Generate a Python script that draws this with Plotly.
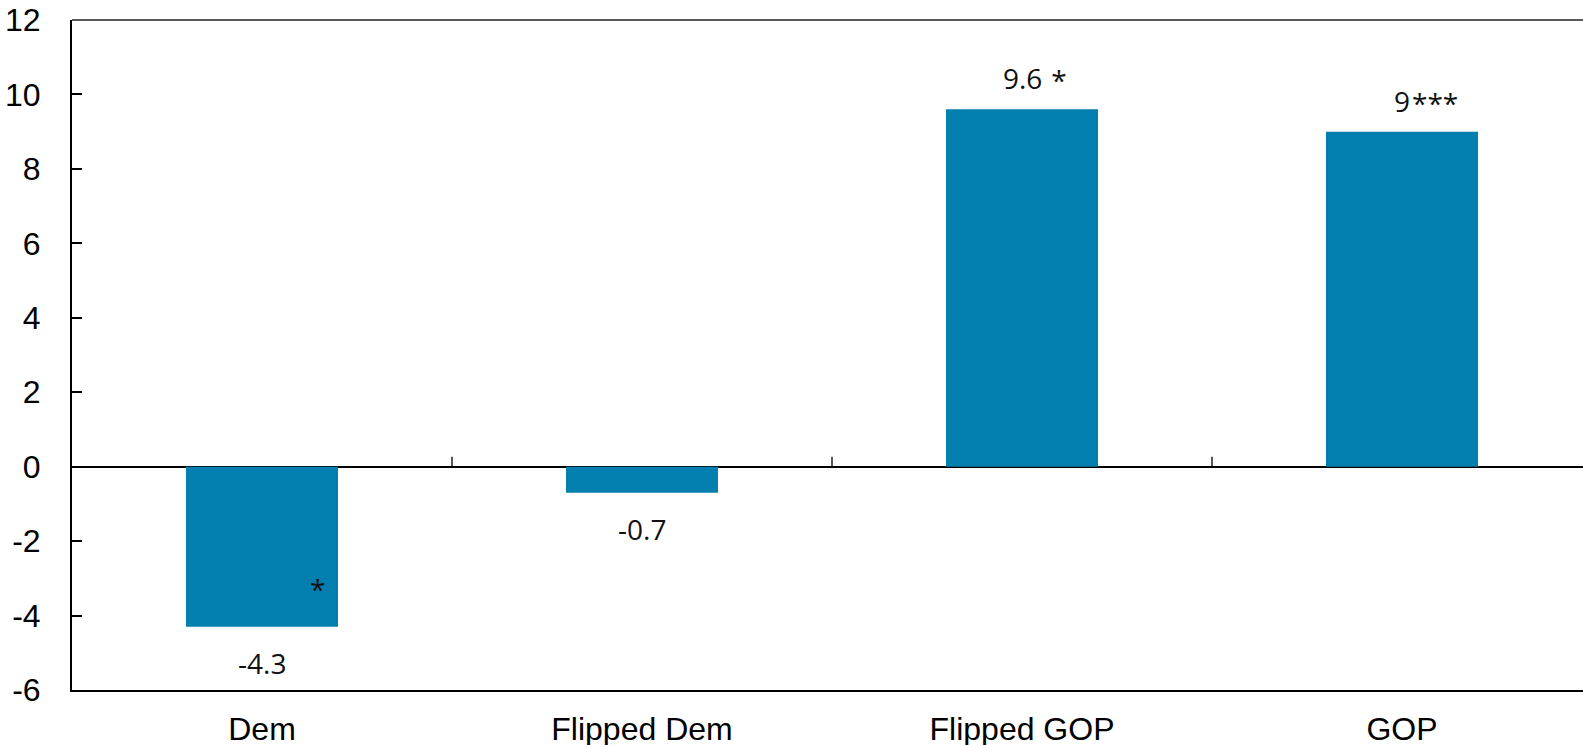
import plotly.graph_objects as go

# Data
categories = ["Dem", "Flipped Dem", "Flipped GOP", "GOP"]
values = [-4.3, -0.7, 9.6, 9.0]
value_labels = ["-4.3", "-0.7", "9.6", "9"]
stars = ["", "", " *", "***"]
y_ticks = [-6, -4, -2, 0, 2, 4, 6, 8, 10, 12]
y_tick_text = ["-6", "-4", "-2", "0", "2", "4", "6", "8", "10", "12"]

BAR_COLOR = "#027FAE"
W, H = 1583, 745
M_L, M_T, M_B = 72, 20, 55
CAT_PX = 380  # pixel width of one category slot

fig = go.Figure()
fig.add_trace(go.Bar(
    x=list(range(len(categories))),
    y=values,
    marker=dict(color=BAR_COLOR, line=dict(width=0)),
    width=0.4,
    hoverinfo="skip",
))

# value labels: number centred over the bar, significance stars trailing
label_font = dict(family="Open Sans", size=28, color="#111111")
char_w = {"-": 0.322, ".": 0.266}
for i, (v, lab, st) in enumerate(zip(values, value_labels, stars)):
    off = 36 if v < 0 else -31
    fig.add_annotation(x=i, y=v, text=lab, showarrow=False, font=label_font,
                       xanchor="center", yanchor="middle", yshift=-off)
    if st and v > 0:
        num_w = sum(char_w.get(c, 0.572) for c in lab) * label_font["size"]
        fig.add_annotation(x=i, y=v, text=st, showarrow=False, font=label_font,
                           xanchor="left", yanchor="middle",
                           yshift=-off - 2, xshift=num_w / 2)

# significance marker for Dem sits inside the bar
fig.add_annotation(x=0, y=values[0], text="*", showarrow=False, font=label_font,
                   xanchor="center", yanchor="middle", xshift=55, yshift=38)

# category boundary ticks on the zero line
for k in range(1, len(categories)):
    fig.add_shape(type="line", xref="x", yref="y", x0=k - 0.5, x1=k - 0.5,
                  ysizemode="pixel", yanchor=0, y0=0, y1=10,
                  line=dict(color="black", width=1.3))

# top border
fig.add_shape(type="line", xref="paper", yref="paper", x0=0, x1=1, y0=1, y1=1,
              line=dict(color="#595959", width=2))

axis_font = dict(family="Liberation Sans, Arial", size=32, color="black")
x_span = (W - M_L) / CAT_PX
fig.update_layout(
    width=W, height=H,
    margin=dict(l=M_L, r=0, t=M_T, b=M_B, autoexpand=False),
    paper_bgcolor="white", plot_bgcolor="white",
    showlegend=False,
    xaxis=dict(
        range=[-0.5, -0.5 + x_span], automargin=False,
        tickmode="array", tickvals=list(range(len(categories))), ticktext=categories,
        showgrid=False, zeroline=False, ticks="",
        showline=True, linecolor="black", linewidth=2,
        tickfont=axis_font,
        ticklabelstandoff=10,
    ),
    yaxis=dict(
        range=[-6, 12], automargin=False,
        tickmode="array", tickvals=y_ticks, ticktext=y_tick_text,
        showgrid=False,
        zeroline=True, zerolinecolor="black", zerolinewidth=1.5,
        showline=True, linecolor="black", linewidth=2,
        ticks="inside", ticklen=10, tickwidth=1.5, tickcolor="black",
        tickfont=axis_font,
        ticklabelstandoff=23,
    ),
)

fig.write_html("out.html")
